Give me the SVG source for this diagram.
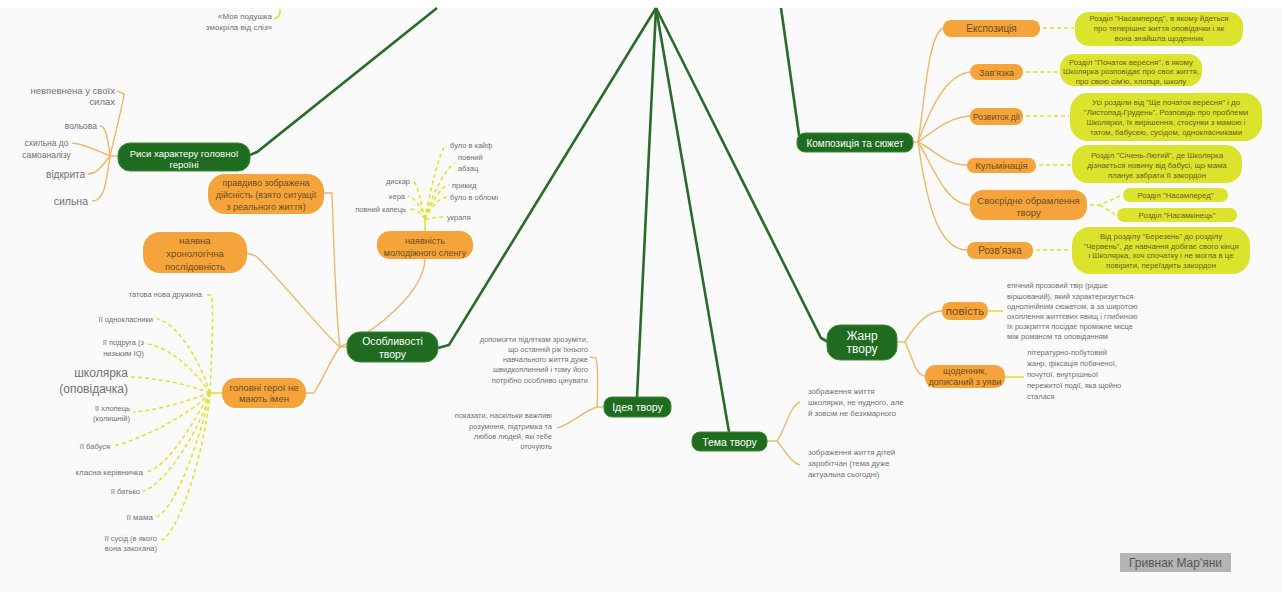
<svg xmlns="http://www.w3.org/2000/svg" width="1282" height="592" viewBox="0 0 1282 592">
<style>
text{font-family:"Liberation Sans",Arial,sans-serif}
.gn rect{fill:#1f6b1f;stroke:#3d8a34;stroke-width:1}
.gn text{fill:#ffffff;text-anchor:middle}
.on rect{fill:#f5a43c}
.on text{fill:#6e4c1e;text-anchor:middle}
.yn rect{fill:#dce32d}
.yn text{fill:#6a6020;text-anchor:middle;font-size:7.8px}
.lb{fill:#717171}
.lb text{fill:#717171}
.main{fill:none;stroke:#2a6b2a;stroke-width:2.6}
.tan{fill:none;stroke:#ecb86c;stroke-width:1.4}
.yd{fill:none;stroke:#dde330;stroke-width:1.5;stroke-dasharray:4 3}
.ys{fill:none;stroke:#dde330;stroke-width:1.6}
</style>
<rect x="0" y="0" width="1282" height="592" fill="#fafafa"/>
<rect x="0" y="0" width="1282" height="8" fill="#ffffff"/>

<g id="connectors">
  <!-- main green branches -->
  <path class="main" d="M437,8 L257,152 L250,155"/>
  <path class="main" d="M656,8 L449,345 L438,348"/>
  <path class="main" d="M656,8 L637,397"/>
  <path class="main" d="M656,8 L729,432"/>
  <path class="main" d="M656,8 L821,338 L828,342"/>
  <path class="main" d="M781,8 L800,142"/>

  <!-- Риси характеру -->
  <path class="tan" d="M118,156 L110,156"/>
  <path class="tan" d="M110,156 C116,130 124,100 124,94 L117,91"/>
  <path class="tan" d="M110,156 C108,140 106,126 100,126"/>
  <path class="tan" d="M110,156 C95,150 85,144 72,143"/>
  <path class="tan" d="M110,156 C102,165 98,174 88,174"/>
  <path class="tan" d="M110,156 C106,185 104,201 92,201"/>
  <path class="ys" d="M274,19 Q281,17 280,9"/>

  <!-- Особливості твору -->
  <path class="tan" d="M347,347 L340,347"/>
  <path class="tan" d="M324,193 L332,193 C334,250 336,320 340,347"/>
  <path class="tan" d="M247,253 L256,256 C290,290 320,330 340,347"/>
  <path class="tan" d="M425,259 C424,290 380,330 340,347"/>
  <path class="tan" d="M306,393 L314,393 C325,375 333,355 340,347"/>

  <!-- сленг -->
  <path class="ys" d="M425,231 L425,219"/>
  <path class="yd" d="M425,219 C430,190 440,150 446,145"/>
  <path class="yd" d="M425,219 C432,195 445,168 455,163"/>
  <path class="yd" d="M425,219 C433,200 440,187 449,185"/>
  <path class="yd" d="M425,219 C432,205 440,198 447,197"/>
  <path class="yd" d="M425,219 C432,218 438,217 443,217"/>
  <path class="yd" d="M425,219 C420,200 418,184 413,181"/>
  <path class="yd" d="M425,219 C420,205 414,197 408,196"/>
  <path class="yd" d="M425,219 C420,212 415,209 410,209"/>

  <!-- головні герої -->
  <path class="ys" d="M222,393 L210,393"/>
  <path class="yd" d="M210,393 C212,350 214,300 211,295 L205,295"/>
  <path class="yd" d="M210,393 C198,355 175,322 157,319"/>
  <path class="yd" d="M210,393 C195,370 170,348 148,344"/>
  <path class="yd" d="M210,393 C190,385 160,378 131,377"/>
  <path class="yd" d="M210,393 C190,400 160,410 133,412"/>
  <path class="yd" d="M210,393 C190,415 140,440 113,446"/>
  <path class="yd" d="M210,393 C195,420 170,465 147,472"/>
  <path class="yd" d="M210,393 C200,430 165,485 143,491"/>
  <path class="yd" d="M210,393 C200,440 175,510 156,517"/>
  <path class="yd" d="M210,393 C205,450 180,530 162,540"/>

  <!-- Ідея твору -->
  <path class="tan" d="M604,407 L597,407"/>
  <path class="tan" d="M597,407 C598,390 598,365 596,358 L590,357"/>
  <path class="tan" d="M597,407 C585,410 570,425 557,428"/>

  <!-- Тема твору -->
  <path class="tan" d="M767,441 L777,441"/>
  <path class="tan" d="M777,441 C785,430 790,405 800,402"/>
  <path class="tan" d="M777,441 C785,450 790,462 800,465"/>

  <!-- Жанр твору -->
  <path class="tan" d="M897,342 L905,342"/>
  <path class="tan" d="M905,342 C912,330 925,311 942,311"/>
  <path class="tan" d="M905,342 C912,355 915,376 925,376"/>
  <path class="ys" d="M988,311 L1003,311"/>
  <path class="ys" d="M1005,377 L1024,377"/>

  <!-- Композиція та сюжет -->
  <path class="tan" d="M913,142 L918,142"/>
  <path class="tan" d="M918,142 C925,100 928,35 943,28"/>
  <path class="tan" d="M918,142 C930,110 945,75 970,72"/>
  <path class="tan" d="M918,142 C935,130 950,117 970,116"/>
  <path class="tan" d="M918,142 C935,150 945,165 967,165"/>
  <path class="tan" d="M918,142 C930,160 945,205 970,205"/>
  <path class="tan" d="M918,142 C925,190 935,250 967,250"/>
  <path class="yd" d="M1043,28 L1074,28"/>
  <path class="yd" d="M1026,72 L1059,72"/>
  <path class="yd" d="M1026,116 L1069,116"/>
  <path class="yd" d="M1039,165 L1071,165"/>
  <path class="yd" d="M1090,205 L1100,205 L1122,195 M1100,205 L1116,215"/>
  <path class="yd" d="M1036,250 L1071,250"/>
</g>

<!-- green main nodes -->
<g id="n-rysy" class="gn">
  <rect x="118" y="143" width="132" height="28" rx="12"/>
  <text x="184" y="156.5" font-size="9.5">Риси характеру головної</text>
  <text x="184" y="168" font-size="9.5">героїні</text>
</g>
<g id="n-osoblyvosti" class="gn">
  <rect x="347" y="332" width="91" height="30" rx="13"/>
  <text x="392.5" y="345" font-size="10.5">Особливості</text>
  <text x="392.5" y="358" font-size="10.5">твору</text>
</g>
<g id="n-ideya" class="gn">
  <rect x="604" y="397" width="67" height="20" rx="8"/>
  <text x="637.5" y="411" font-size="10.5">Ідея твору</text>
</g>
<g id="n-tema" class="gn">
  <rect x="692" y="432" width="75" height="19" rx="8"/>
  <text x="729.5" y="445.5" font-size="10.5">Тема твору</text>
</g>
<g id="n-zhanr" class="gn">
  <rect x="827" y="325" width="70" height="35" rx="13"/>
  <text x="862" y="339.5" font-size="12">Жанр</text>
  <text x="862" y="353" font-size="12">твору</text>
</g>
<g id="n-kompozytsiya" class="gn">
  <rect x="797" y="133" width="116" height="19" rx="8"/>
  <text x="855" y="146.5" font-size="10">Композиція та сюжет</text>
</g>

<!-- orange nodes -->
<g id="n-pravdyvo" class="on">
  <rect x="208" y="174" width="116" height="40" rx="17"/>
  <text x="266" y="186" font-size="9">правдиво зображена</text>
  <text x="266" y="198" font-size="9">дійсність (взято ситуації</text>
  <text x="266" y="210" font-size="9">з реального життя)</text>
</g>
<g id="n-khronologiya" class="on">
  <rect x="143" y="232" width="104" height="41" rx="17"/>
  <text x="195" y="244" font-size="9.5">наявна</text>
  <text x="195" y="257" font-size="9.5">хронологічна</text>
  <text x="195" y="270" font-size="9.5">послідовність</text>
</g>
<g id="n-sleng" class="on">
  <rect x="377" y="231" width="96" height="28" rx="13"/>
  <text x="425" y="243.5" font-size="9">наявність</text>
  <text x="425" y="255.5" font-size="9">молодіжного сленгу</text>
</g>
<g id="n-holovni" class="on">
  <rect x="222" y="378" width="84" height="30" rx="14"/>
  <text x="264" y="390.5" font-size="9.5">головні герої не</text>
  <text x="264" y="401.5" font-size="9.5">мають імен</text>
</g>
<g id="n-ekspozytsiya" class="on">
  <rect x="943" y="20" width="97" height="17" rx="8"/>
  <text x="991.5" y="32" font-size="10">Експозиція</text>
</g>
<g id="n-zavyazka" class="on">
  <rect x="970" y="64" width="53" height="16" rx="8"/>
  <text x="996.5" y="75.5" font-size="9">Зав'язка</text>
</g>
<g id="n-rozvytok" class="on">
  <rect x="970" y="108" width="53" height="17" rx="8"/>
  <text x="996.5" y="120" font-size="8.5">Розвиток дії</text>
</g>
<g id="n-kulminatsiya" class="on">
  <rect x="967" y="158" width="69" height="15" rx="7"/>
  <text x="1001.5" y="169" font-size="9.5">Кульмінація</text>
</g>
<g id="n-obramlennya" class="on">
  <rect x="970" y="190" width="117" height="30" rx="13"/>
  <text x="1028.5" y="203.5" font-size="9.5">Своєрідне обрамлення</text>
  <text x="1028.5" y="215.5" font-size="9.5">твору</text>
</g>
<g id="n-rozvyazka" class="on">
  <rect x="967" y="242" width="66" height="17" rx="8"/>
  <text x="1000" y="254" font-size="10">Розв'язка</text>
</g>
<g id="n-povist" class="on">
  <rect x="942" y="302" width="46" height="18" rx="8"/>
  <text x="965" y="315" font-size="11.5">повість</text>
</g>
<g id="n-shchodennyk" class="on">
  <rect x="925" y="365" width="80" height="23" rx="10"/>
  <text x="965" y="373.5" font-size="9">щоденник,</text>
  <text x="965" y="385" font-size="9">дописаний з уяви</text>
</g>

<!-- yellow nodes -->
<g id="n-y-ekspozytsiya" class="yn">
  <rect x="1075" y="12" width="168" height="34" rx="14"/>
  <text x="1159" y="21">Розділ "Насамперед", в якому йдеться</text>
  <text x="1159" y="31">про теперішнє життя оповідачки і як</text>
  <text x="1159" y="41">вона знайшла щоденник</text>
</g>
<g id="n-y-zavyazka" class="yn">
  <rect x="1060" y="54" width="142" height="32" rx="14"/>
  <text x="1131" y="64.5">Розділ "Початок вересня", в якому</text>
  <text x="1131" y="74">Школярка розповідає про своє життя,</text>
  <text x="1131" y="83.5">про свою сім'ю, хлопця, школу</text>
</g>
<g id="n-y-rozvytok" class="yn">
  <rect x="1070" y="93" width="192" height="48" rx="18"/>
  <text x="1166" y="105">Усі розділи від "Ще початок вересня" і до</text>
  <text x="1166" y="115">"Листопад-Грудень". Розповідь про проблеми</text>
  <text x="1166" y="125">Школярки, їх вирішення, стосунки з мамою і</text>
  <text x="1166" y="135">татом, бабусею, сусідом, однокласниками</text>
</g>
<g id="n-y-kulminatsiya" class="yn">
  <rect x="1072" y="145" width="170" height="38" rx="16"/>
  <text x="1157" y="158">Розділ "Січень-Лютий", де Школярка</text>
  <text x="1157" y="168">дізнається новину від бабусі, що мама</text>
  <text x="1157" y="178">планує забрати її закордон</text>
</g>
<g id="n-y-nasampered" class="yn">
  <rect x="1123" y="188" width="105" height="14" rx="7"/>
  <text x="1175.5" y="198">Розділ "Насамперед"</text>
</g>
<g id="n-y-nasamkinets" class="yn">
  <rect x="1117" y="208" width="120" height="14" rx="7"/>
  <text x="1177" y="218">Розділ "Насамкінець"</text>
</g>
<g id="n-y-rozvyazka" class="yn">
  <rect x="1072" y="227" width="178" height="47" rx="18"/>
  <text x="1161" y="239">Від розділу "Березень" до розділу</text>
  <text x="1161" y="248.5">"Червень", де навчання добігає свого кінця</text>
  <text x="1161" y="258">і Школярка, хоч спочатку і не могла в це</text>
  <text x="1161" y="268">повірити, переїздить закордон</text>
</g>

<!-- labels: риси характеру -->
<g id="l-rysy" class="lb">
  <text x="115" y="94" font-size="9.5" text-anchor="end">невпевнена у своїх</text>
  <text x="115" y="105" font-size="9.5" text-anchor="end">силах</text>
  <text x="97" y="128.5" font-size="8.5" text-anchor="end">вольова</text>
  <text x="46.5" y="146" font-size="8.5" text-anchor="middle">схильна до</text>
  <text x="46.5" y="157.5" font-size="8.5" text-anchor="middle">самоаналізу</text>
  <text x="85" y="177.5" font-size="10" text-anchor="end">відкрита</text>
  <text x="88" y="204.5" font-size="10.5" text-anchor="end">сильна</text>
</g>
<g id="l-quote" class="lb">
  <text x="272" y="18.5" font-size="8" text-anchor="end">«Моя подушка</text>
  <text x="272" y="29.5" font-size="8" text-anchor="end">змокріла від сліз»</text>
</g>

<!-- labels: сленг -->
<g id="l-sleng" class="lb" font-size="7.5">
  <text x="450" y="147.5">було в кайф</text>
  <text x="458" y="160">повний</text>
  <text x="458" y="171">абзац</text>
  <text x="452" y="187.5">прикид</text>
  <text x="450" y="199.5">було в обломі</text>
  <text x="447" y="219.5">украля</text>
  <text x="410" y="183.5" text-anchor="end">дискар</text>
  <text x="405" y="198.5" text-anchor="end">кера</text>
  <text x="406" y="211.5" text-anchor="end">повний капець</text>
</g>

<!-- labels: головні герої -->
<g id="l-heroi" class="lb" font-size="7.5">
  <text x="202" y="297" text-anchor="end">татова нова дружина</text>
  <text x="153" y="322" text-anchor="end">її однокласники</text>
  <text x="144" y="345" text-anchor="end">її подруга (з</text>
  <text x="144" y="356" text-anchor="end">низьким IQ)</text>
  <text x="128" y="376.5" font-size="12" text-anchor="end">школярка</text>
  <text x="128" y="392.5" font-size="12" text-anchor="end">(оповідачка)</text>
  <text x="130" y="410.5" text-anchor="end">її хлопець</text>
  <text x="130" y="420.5" text-anchor="end">(колишній)</text>
  <text x="110" y="448.5" text-anchor="end">її бабуся</text>
  <text x="143" y="475" font-size="8" text-anchor="end">класна керівничка</text>
  <text x="140" y="493.5" text-anchor="end">її батько</text>
  <text x="153" y="520" font-size="8" text-anchor="end">її мама</text>
  <text x="157" y="540.5" text-anchor="end">її сусід (в якого</text>
  <text x="157" y="550.5" text-anchor="end">вона закохана)</text>
</g>

<!-- labels: ідея -->
<g id="l-ideya" class="lb" font-size="7.5" text-anchor="end">
  <text x="588" y="342">допомогти підліткам зрозуміти,</text>
  <text x="588" y="352">що останній рік їхнього</text>
  <text x="588" y="362">навчального життя дуже</text>
  <text x="588" y="372">швидкоплинний і тому його</text>
  <text x="588" y="383">потрібно особливо цінувати</text>
  <text x="552" y="418">показати, наскільки важливі</text>
  <text x="552" y="429">розуміння, підтримка та</text>
  <text x="552" y="439">любов людей, які тебе</text>
  <text x="552" y="449">оточують</text>
</g>

<!-- labels: тема -->
<g id="l-tema" class="lb" font-size="7.8">
  <text x="808" y="394">зображення життя</text>
  <text x="808" y="405">школярки, не нудного, але</text>
  <text x="808" y="416">й зовсім не безхмарного</text>
  <text x="808" y="455">зображення життя дітей</text>
  <text x="808" y="466">заробітчан (тема дуже</text>
  <text x="808" y="477">актуальна сьогодні)</text>
</g>

<!-- labels: жанр -->
<g id="l-zhanr" class="lb" font-size="7.5">
  <text x="1007" y="288">епічний прозовий твір (рідше</text>
  <text x="1007" y="299">віршований), який характеризується</text>
  <text x="1007" y="309">однолінійним сюжетом, а за широтою</text>
  <text x="1007" y="319">охоплення життєвих явищ і глибиною</text>
  <text x="1007" y="329">їх розкриття посідає проміжне місце</text>
  <text x="1007" y="339">між романом та оповіданням</text>
  <text x="1027" y="355">літературно-побутовий</text>
  <text x="1027" y="366">жанр, фіксація побаченої,</text>
  <text x="1027" y="377">почутої, внутрішньої</text>
  <text x="1027" y="388">пережитої події, яка щойно</text>
  <text x="1027" y="399">сталася</text>
</g>

<!-- watermark -->
<g id="watermark">
  <rect x="1120" y="553" width="111" height="19" fill="#b4b4b4"/>
  <text x="1175.5" y="567" font-size="12" fill="#555555" text-anchor="middle">Гривнак Мар'яни</text>
</g>
</svg>
